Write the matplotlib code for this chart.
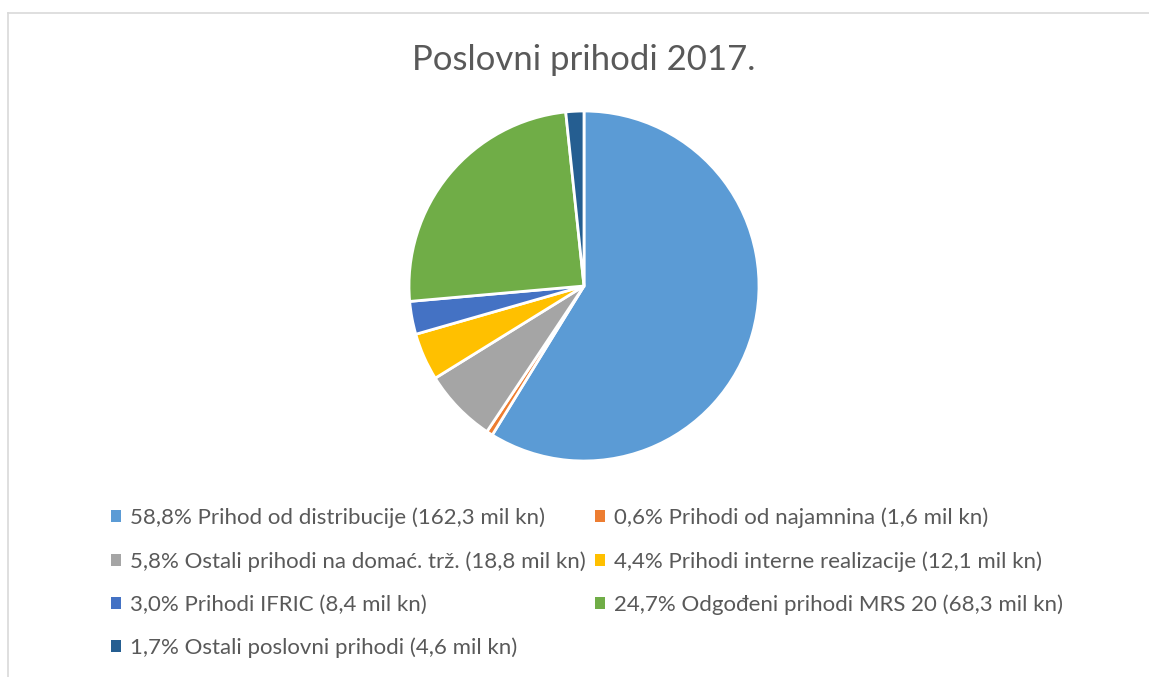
import matplotlib.pyplot as plt
from matplotlib.patches import Patch
from matplotlib.lines import Line2D

# values in mil kn, legend percentages as printed on the chart
labels = ['Prihod od distribucije', 'Prihodi od najamnina', 'Ostali prihodi na domać. trž.',
          'Prihodi interne realizacije', 'Prihodi IFRIC', 'Odgođeni prihodi MRS 20',
          'Ostali poslovni prihodi']
values = [162.3, 1.6, 18.8, 12.1, 8.4, 68.3, 4.6]
pct_text = ['58,8%', '0,6%', '5,8%', '4,4%', '3,0%', '24,7%', '1,7%']
val_text = ['162,3', '1,6', '18,8', '12,1', '8,4', '68,3', '4,6']
colors = ['#5B9BD5', '#ED7D31', '#A5A5A5', '#FFC000', '#4472C4', '#70AD47', '#255E91']

plt.rcParams['font.family'] = ['Lato', 'DejaVu Sans']

W, H = 1149, 677
fig = plt.figure(figsize=(W / 100, H / 100), dpi=100)

# chart border (cropped frame)
fig.add_artist(Line2D([7.5 / W, 7.5 / W], [0, 1 - 12.5 / H], color='#D9D9D9', lw=1.2))
fig.add_artist(Line2D([7.5 / W, 1], [1 - 12.5 / H, 1 - 12.5 / H], color='#D9D9D9', lw=1.2))

fig.text(584 / W, 1 - 60 / H, 'Poslovni prihodi 2017.', ha='center', va='center',
         fontsize=25, color='#595959')

cx, cy, r = 584, 286, 175
ax = fig.add_axes([(cx - r) / W, (H - cy - r) / H, 2 * r / W, 2 * r / H])
ax.pie(values, colors=colors, startangle=90, counterclock=False, radius=1,
       wedgeprops=dict(edgecolor='white', linewidth=2))
ax.set_xlim(-1.0, 1.0)
ax.set_ylim(-1.0, 1.0)
ax.set_aspect('equal')
ax.axis('off')

entries = [f'{p} {l} ({v} mil kn)' for p, l, v in zip(pct_text, labels, val_text)]
handles = [Patch(facecolor=c, edgecolor='none') for c in colors]
order = [0, 2, 4, 6, 1, 3, 5]
fig.legend([handles[i] for i in order], [entries[i] for i in order], ncol=2,
           loc='upper left', bbox_to_anchor=(93 / W, 1 - 490 / H),
           frameon=False, fontsize=16, labelcolor='#595959',
           handlelength=0.45, handleheight=0.45, handletextpad=0.4,
           columnspacing=0.45, labelspacing=1.03, borderpad=0.3)

fig.savefig('out.png', dpi=100)
